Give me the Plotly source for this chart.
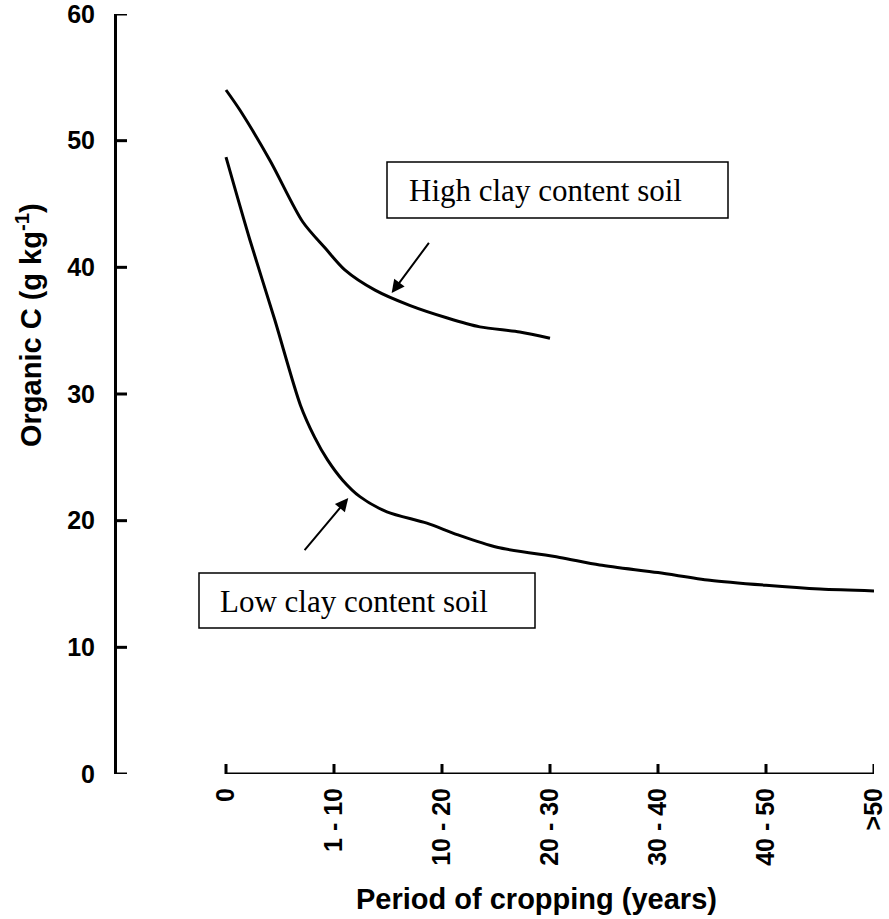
import plotly.graph_objects as go

# Category tick labels (period of cropping)
period_labels = ["0", "1 - 10", "10 - 20", "20 - 30", "30 - 40", "40 - 50", ">50"]
period_pos = [0, 1, 2, 3, 4, 5, 6]
y_ticks = [0, 10, 20, 30, 40, 50, 60]

# High clay content soil (position along category axis, organic C g/kg)
high_x = [0, 0.13, 0.41, 0.71, 0.92, 1.10, 1.38, 1.70, 2.05, 2.35, 2.72, 3.0]
high_y = [54.0, 52.4, 48.4, 43.6, 41.5, 39.8, 38.2, 37.0, 36.0, 35.3, 34.9, 34.4]

# Low clay content soil
low_x = [0, 0.22, 0.45, 0.69, 0.82, 0.94, 1.08, 1.24, 1.49, 1.86, 2.14, 2.51, 3.09,
         3.46, 4.0, 4.48, 5.0, 5.5, 6.0]
low_y = [48.7, 42.2, 35.9, 29.1, 26.6, 24.8, 23.2, 21.9, 20.7, 19.8, 18.9, 17.9, 17.1,
         16.5, 15.9, 15.3, 14.9, 14.6, 14.45]

W, H = 889, 919
ML, MR, MT, MB = 117, 15, 14, 145
PW = W - ML - MR
PH = H - MT - MB
TICK_LEN = 10


def px(xp):
    return (xp - ML) / PW


def py(yp):
    return (H - MB - yp) / PH


# x range so that category 0 sits at 226 px and ">50" at the right edge
frac0 = px(226)
x_span = period_pos[-1] / (1 - frac0)
x_min = period_pos[-1] - x_span

fig = go.Figure()
for xs, ys in ((high_x, high_y), (low_x, low_y)):
    fig.add_trace(go.Scatter(x=xs, y=ys, mode="lines",
                             line=dict(color="black", width=3, shape="spline", smoothing=0.8),
                             showlegend=False, hoverinfo="skip"))

axfont = dict(family="Liberation Sans, Arial", size=25, color="black", weight="bold")
titlefont = dict(family="Liberation Sans, Arial", size=29, color="black", weight="bold")

fig.update_layout(
    width=W, height=H,
    margin=dict(l=ML, r=MR, t=MT, b=MB, autoexpand=False),
    plot_bgcolor="white", paper_bgcolor="white",
    xaxis=dict(
        domain=[0, 1], range=[x_min, period_pos[-1]],
        tickvals=period_pos, ticktext=period_labels, tickangle=-90,
        showline=False, ticks="",
        showgrid=False, zeroline=False, tickfont=axfont,
        ticklabelstandoff=8, ticklabeloverflow="allow", automargin=False,
    ),
    yaxis=dict(
        domain=[0, 1], range=[0, 60],
        tickvals=y_ticks,
        showline=True, linewidth=3, linecolor="black", ticks="",
        showgrid=False, zeroline=False, tickfont=axfont,
        ticklabelstandoff=14, ticklabeloverflow="allow", automargin=False,
    ),
)

# x axis line, spanning only the categories
fig.add_shape(type="line", xref="x", yref="y", x0=period_pos[0], x1=period_pos[-1],
              y0=0, y1=0, line=dict(color="black", width=3), layer="above")

# Tick marks pointing into the plot
for v in period_pos:
    fig.add_shape(type="line", xref="x", yref="paper", x0=v, x1=v,
                  y0=0, y1=TICK_LEN / PH, line=dict(color="black", width=3), layer="above")
for v in y_ticks:
    fig.add_shape(type="line", xref="paper", yref="y", x0=0, x1=TICK_LEN / PW,
                  y0=v, y1=v, line=dict(color="black", width=3), layer="above")

# Axis titles
fig.add_annotation(xref="paper", yref="paper", x=px(536), y=py(899),
                   text="Period of cropping (years)", showarrow=False,
                   xanchor="center", yanchor="middle", font=titlefont)
fig.add_annotation(xref="paper", yref="paper", x=px(29), y=py(325),
                   text="Organic C (g kg<sup>-1</sup>)", showarrow=False, textangle=-90,
                   xanchor="center", yanchor="middle", font=titlefont)

# Label boxes
fig.add_shape(type="rect", xref="paper", yref="paper",
              x0=px(387), x1=px(728), y0=py(218), y1=py(162),
              line=dict(color="black", width=1.5), fillcolor="white")
fig.add_shape(type="rect", xref="paper", yref="paper",
              x0=px(199), x1=px(535), y0=py(628), y1=py(573),
              line=dict(color="black", width=1.5), fillcolor="white")

labfont = dict(family="Liberation Serif, Times New Roman", size=31, color="black")
fig.add_annotation(xref="paper", yref="paper", x=px(407), y=py(190),
                   text="High clay content soil", showarrow=False,
                   xanchor="left", yanchor="middle", font=labfont)
fig.add_annotation(xref="paper", yref="paper", x=px(218), y=py(601),
                   text="Low clay content soil", showarrow=False,
                   xanchor="left", yanchor="middle", font=labfont)

# Arrows
fig.add_annotation(x=1.534, y=37.97, ax=1.889, ay=42.05, xref="x", yref="y",
                   axref="x", ayref="y", text="", showarrow=True,
                   arrowhead=2, arrowsize=1.3, arrowwidth=2, arrowcolor="black")
fig.add_annotation(x=1.132, y=21.78, ax=0.716, ay=17.56, xref="x", yref="y",
                   axref="x", ayref="y", text="", showarrow=True,
                   arrowhead=2, arrowsize=1.3, arrowwidth=2, arrowcolor="black")

fig.write_html("out.html")
